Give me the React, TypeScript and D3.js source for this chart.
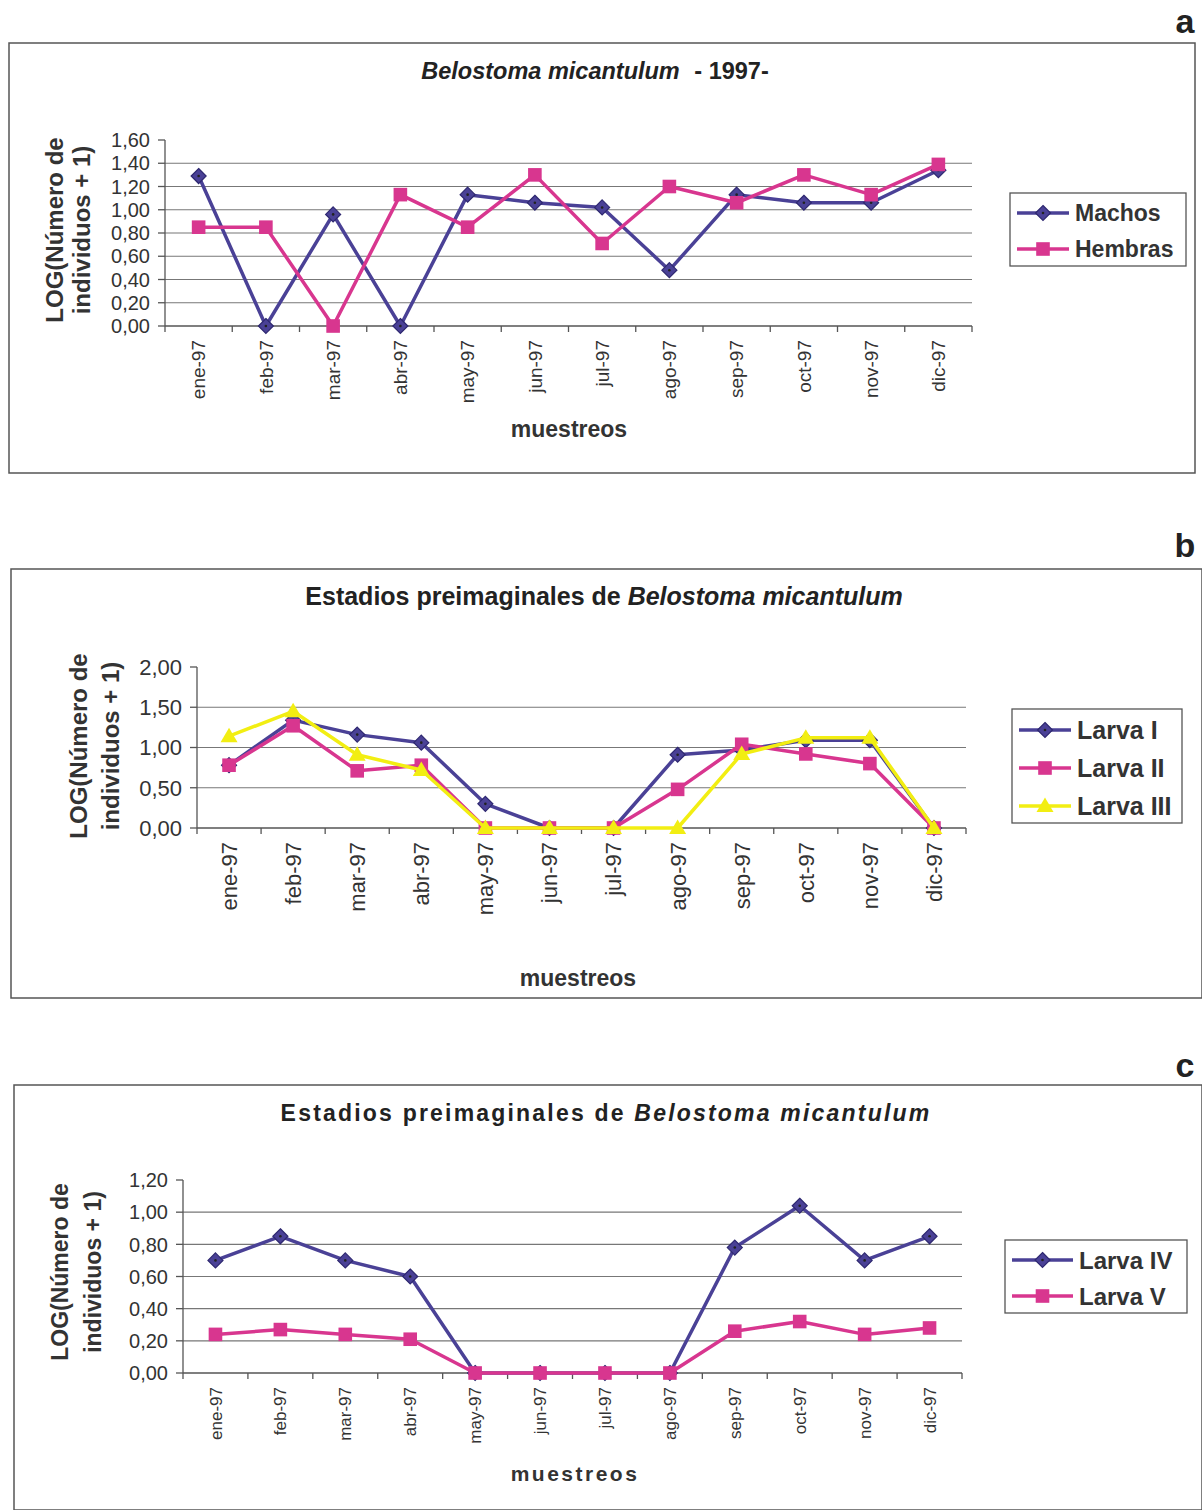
import React from 'react';
import * as d3 from 'd3';

const months = ['ene-97', 'feb-97', 'mar-97', 'abr-97', 'may-97', 'jun-97', 'jul-97', 'ago-97', 'sep-97', 'oct-97', 'nov-97', 'dic-97'];

// panel a
const machos = [1.29, 0, 0.96, 0, 1.13, 1.06, 1.02, 0.48, 1.13, 1.06, 1.06, 1.34];
const hembras = [0.85, 0.85, 0, 1.13, 0.85, 1.3, 0.71, 1.2, 1.06, 1.3, 1.13, 1.39];
const ticksA = [0, 0.2, 0.4, 0.6, 0.8, 1.0, 1.2, 1.4, 1.6];

// panel b
const larva1 = [0.78, 1.34, 1.16, 1.06, 0.3, 0, 0, 0.91, 0.97, 1.09, 1.09, 0];
const larva2 = [0.78, 1.27, 0.71, 0.78, 0, 0, 0, 0.48, 1.04, 0.92, 0.8, 0];
const larva3 = [1.14, 1.45, 0.91, 0.72, 0, 0, 0, 0, 0.92, 1.12, 1.12, 0];
const ticksB = [0, 0.5, 1.0, 1.5, 2.0];

// panel c
const larva4 = [0.7, 0.85, 0.7, 0.6, 0, 0, 0, 0, 0.78, 1.04, 0.7, 0.85];
const larva5 = [0.24, 0.27, 0.24, 0.21, 0, 0, 0, 0, 0.26, 0.32, 0.24, 0.28];
const ticksC = [0, 0.2, 0.4, 0.6, 0.8, 1.0, 1.2];

const BLUE = '#4a4196';
const PINK = '#d8368f';
const YELLOW = '#f2ee12';
const FONT = '"Liberation Sans", Arial, sans-serif';

type Series = { name: string; values: number[]; color: string; marker: 'diamond' | 'square' | 'triangle' };

interface PanelProps {
  letter: string;
  letterY: number;
  frame: { x: number; y: number; w: number; h: number };
  plot: { x0: number; x1: number; top: number; bottom: number };
  ticks: number[];
  tickFs: number;
  xFs: number;
  title: React.ReactNode;
  titleX: number;
  titleY: number;
  titleFs: number;
  titleSpacing?: number;
  ylab: { x1: number; x2: number; cy: number; fs: number };
  xlab: { x: number; y: number; fs: number; spacing?: number };
  series: Series[];
  legend: { x: number; y: number; w: number; h: number; fs: number; rowH: number; textX: number };
}

const Marker = ({ type, x, y, color }: { type: string; x: number; y: number; color: string }) => {
  if (type === 'diamond') {
    const r = 7.5;
    return (
      <g>
        <path d={`M${x},${y - r}L${x + r},${y}L${x},${y + r}L${x - r},${y}Z`} fill={color} stroke="#2e2870" strokeWidth={1.2} />
        <circle cx={x} cy={y} r={1.3} fill="#222" />
      </g>
    );
  }
  if (type === 'square') {
    const s = 6.8;
    return <rect x={x - s} y={y - s} width={s * 2} height={s * 2} fill={color} />;
  }
  const r = 8.5;
  return <path d={`M${x},${y - r}L${x + r},${y + r * 0.7}L${x - r},${y + r * 0.7}Z`} fill={color} />;
};

const Panel = (p: PanelProps) => {
  const x = d3.scaleBand<string>().domain(months).range([p.plot.x0, p.plot.x1]);
  const y = d3.scaleLinear().domain([0, p.ticks[p.ticks.length - 1]]).range([p.plot.bottom, p.plot.top]);
  const cx = (m: string) => (x(m) || 0) + x.bandwidth() / 2;
  const line = d3.line<number>().x((_, i) => cx(months[i])).y(d => y(d));
  const fmt = (v: number) => v.toFixed(2).replace('.', ',');
  const lg = p.legend;

  return (
    <g fontFamily={FONT}>
      <text x={1185} y={p.letterY} fontSize={34} fontWeight="bold" textAnchor="middle" fill="#222">{p.letter}</text>
      <rect x={p.frame.x} y={p.frame.y} width={p.frame.w} height={p.frame.h} fill="#fff" stroke="#555" strokeWidth={1.5} />
      <text x={p.titleX} y={p.titleY} fontSize={p.titleFs} fontWeight="bold" textAnchor="middle" fill="#222" letterSpacing={p.titleSpacing || 0}>{p.title}</text>

      {/* gridlines */}
      {p.ticks.slice(1, -1).map(t => (
        <line key={t} x1={p.plot.x0} x2={p.plot.x1} y1={y(t)} y2={y(t)} stroke="#777" strokeWidth={1.2} />
      ))}
      {/* axes */}
      <line x1={p.plot.x0} x2={p.plot.x0} y1={p.plot.top} y2={p.plot.bottom} stroke="#555" strokeWidth={1.3} />
      <line x1={p.plot.x0} x2={p.plot.x1} y1={p.plot.bottom} y2={p.plot.bottom} stroke="#555" strokeWidth={1.3} />
      {p.ticks.map(t => (
        <g key={t}>
          <line x1={p.plot.x0 - 7} x2={p.plot.x0} y1={y(t)} y2={y(t)} stroke="#555" strokeWidth={1.3} />
          <text x={p.plot.x0 - 15} y={y(t)} dy="0.36em" fontSize={p.tickFs} textAnchor="end" fill="#333">{fmt(t)}</text>
        </g>
      ))}
      {[...months.map(m => x(m) || 0), p.plot.x1].map((bx, i) => (
        <line key={i} x1={bx} x2={bx} y1={p.plot.bottom} y2={p.plot.bottom + 6} stroke="#555" strokeWidth={1.3} />
      ))}
      {months.map(m => (
        <text key={m} transform={`translate(${cx(m) + p.xFs * 0.36},${p.plot.bottom + 14}) rotate(-90)`} fontSize={p.xFs} textAnchor="end" fill="#333">{m}</text>
      ))}

      {/* y label */}
      <g transform={`translate(${p.ylab.x1},${p.ylab.cy}) rotate(-90)`}>
        <text fontSize={p.ylab.fs} fontWeight="bold" textAnchor="middle" fill="#333">LOG(Número de</text>
      </g>
      <g transform={`translate(${p.ylab.x2},${p.ylab.cy}) rotate(-90)`}>
        <text fontSize={p.ylab.fs} fontWeight="bold" textAnchor="middle" fill="#333">individuos + 1)</text>
      </g>
      <text x={p.xlab.x} y={p.xlab.y} fontSize={p.xlab.fs} fontWeight="bold" textAnchor="middle" fill="#333" letterSpacing={p.xlab.spacing || 0}>muestreos</text>

      {/* series */}
      {p.series.map(s => (
        <g key={s.name}>
          <path d={line(s.values) || ''} fill="none" stroke={s.color} strokeWidth={3.5} strokeLinejoin="round" />
          {s.values.map((v, i) => <Marker key={i} type={s.marker} x={cx(months[i])} y={y(v)} color={s.color} />)}
        </g>
      ))}

      {/* legend */}
      <rect x={lg.x} y={lg.y} width={lg.w} height={lg.h} fill="#fff" stroke="#555" strokeWidth={1.3} />
      {p.series.map((s, i) => {
        const ry = lg.y + lg.rowH * (i + 0.5) + 2;
        return (
          <g key={s.name}>
            <line x1={lg.x + 7} x2={lg.textX - 6} y1={ry} y2={ry} stroke={s.color} strokeWidth={3.5} />
            <Marker type={s.marker} x={(lg.x + 7 + lg.textX - 6) / 2} y={ry} color={s.color} />
            <text x={lg.textX} y={ry} dy="0.36em" fontSize={lg.fs} fontWeight="bold" fill="#333">{s.name}</text>
          </g>
        );
      })}
    </g>
  );
};

export default function App() {
  return (
    <svg width={1202} height={1510} style={{ position: 'absolute', left: 0, top: 0, background: '#fff' }}>
      <rect width={1202} height={1510} fill="#fff" />
      <Panel
        letter="a" letterY={33}
        frame={{ x: 9, y: 43, w: 1186, h: 430 }}
        plot={{ x0: 165, x1: 972, top: 140, bottom: 326 }}
        ticks={ticksA} tickFs={20} xFs={19}
        title={<><tspan fontStyle="italic">Belostoma micantulum</tspan><tspan>{'  '}</tspan><tspan dx={8}>- 1997-</tspan></>}
        titleX={595} titleY={79} titleFs={23.5}
        ylab={{ x1: 63, x2: 90, cy: 230, fs: 24 }}
        xlab={{ x: 569, y: 437, fs: 23 }}
        series={[
          { name: 'Machos', values: machos, color: BLUE, marker: 'diamond' },
          { name: 'Hembras', values: hembras, color: PINK, marker: 'square' },
        ]}
        legend={{ x: 1010, y: 193, w: 176, h: 73, fs: 23, rowH: 36, textX: 1075 }}
      />
      <Panel
        letter="b" letterY={557}
        frame={{ x: 11, y: 569, w: 1191, h: 429 }}
        plot={{ x0: 197, x1: 966, top: 667, bottom: 828 }}
        ticks={ticksB} tickFs={22} xFs={22}
        title={<><tspan>Estadios preimaginales de </tspan><tspan fontStyle="italic">Belostoma micantulum</tspan></>}
        titleX={604} titleY={605} titleFs={25}
        ylab={{ x1: 87, x2: 119, cy: 746, fs: 24 }}
        xlab={{ x: 578, y: 986, fs: 23 }}
        series={[
          { name: 'Larva I', values: larva1, color: BLUE, marker: 'diamond' },
          { name: 'Larva II', values: larva2, color: PINK, marker: 'square' },
          { name: 'Larva III', values: larva3, color: YELLOW, marker: 'triangle' },
        ]}
        legend={{ x: 1012, y: 709, w: 170, h: 114, fs: 25, rowH: 38, textX: 1077 }}
      />
      <Panel
        letter="c" letterY={1077}
        frame={{ x: 14, y: 1085, w: 1188, h: 425 }}
        plot={{ x0: 183, x1: 962, top: 1180, bottom: 1373 }}
        ticks={ticksC} tickFs={20} xFs={17}
        title={<><tspan>Estadios preimaginales de </tspan><tspan fontStyle="italic">Belostoma micantulum</tspan></>}
        titleX={606} titleY={1121} titleFs={23} titleSpacing={2.2}
        ylab={{ x1: 68, x2: 101, cy: 1272, fs: 23 }}
        xlab={{ x: 575, y: 1481, fs: 21, spacing: 2.5 }}
        series={[
          { name: 'Larva IV', values: larva4, color: BLUE, marker: 'diamond' },
          { name: 'Larva V', values: larva5, color: PINK, marker: 'square' },
        ]}
        legend={{ x: 1005, y: 1240, w: 182, h: 73, fs: 24, rowH: 36, textX: 1079 }}
      />
    </svg>
  );
}
